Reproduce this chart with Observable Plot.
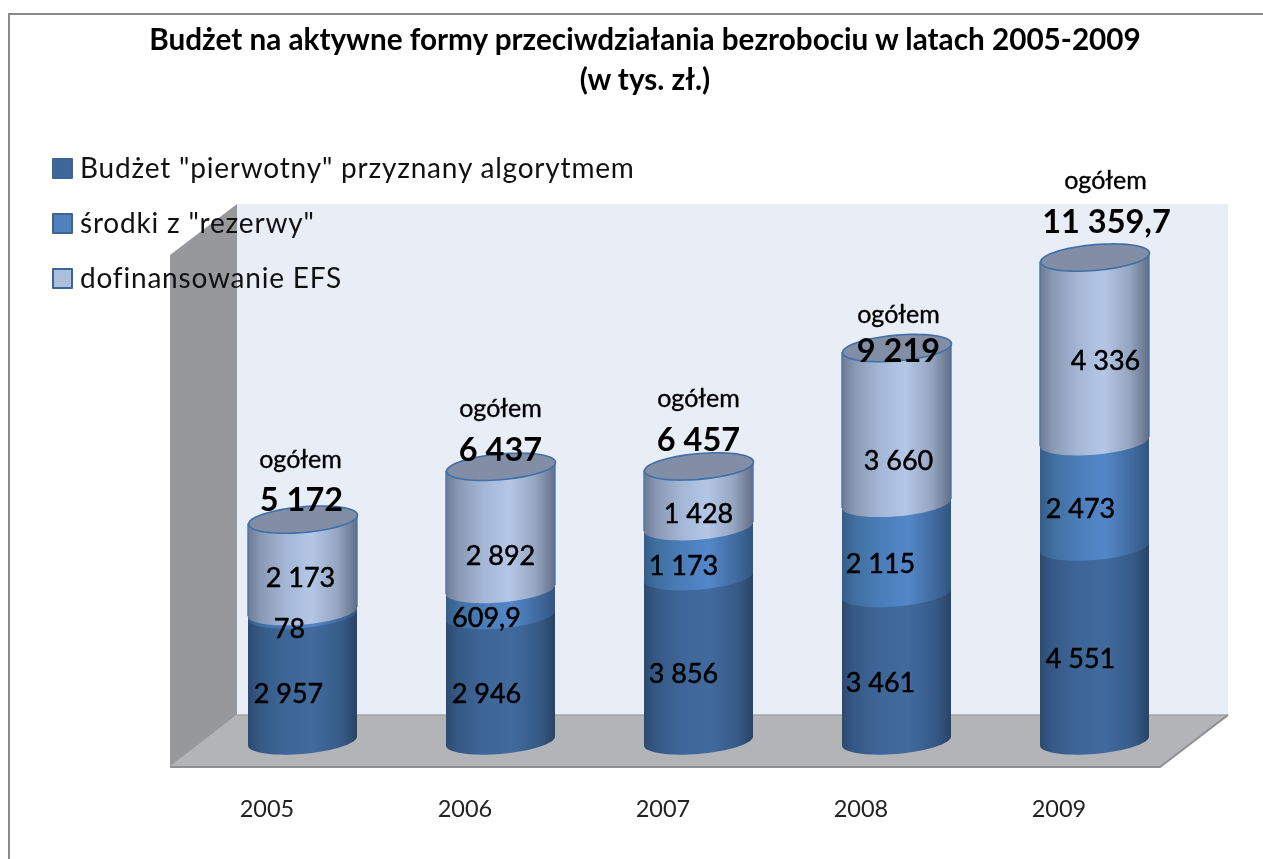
<!DOCTYPE html>
<html lang="pl">
<head>
<meta charset="utf-8">
<script src="https://cdn.jsdelivr.net/npm/d3@7"></script>
<script src="https://cdn.jsdelivr.net/npm/@observablehq/plot@0.6"></script>
<style>
  html, body { margin: 0; padding: 0; background: #fff; width: 1263px; height: 859px; overflow: hidden; }
  body { position: relative; font-family: Lato, sans-serif; color: #000; }
  #page { position: absolute; left: 0; top: 0; width: 1263px; height: 859px; filter: blur(.45px); }
  #border { position: absolute; left: 8px; top: 13px; right: -5px; bottom: -5px; border: 2px solid #8a8a8a; box-sizing: border-box; }
  #plot { position: absolute; left: 0; top: 0; }
  #plot svg { display: block; }
  #title { position: absolute; left: 0; width: 1290px; top: 19px; margin: 0; text-align: center; font-size: 29.7px; font-weight: 700; line-height: 40px; }
  #legend { position: absolute; left: 52px; top: 0; }
  .item { position: absolute; left: 0; white-space: nowrap; font-size: 28px; color: #111; letter-spacing: .8px; line-height: 32px; height: 32px; padding-left: 28px; }
  .item i { position: absolute; left: 0; top: 7.5px; width: 17px; height: 17px; border: 2px solid #3c6494; border-radius: 1px; }
</style>
</head>
<body>
<div id="page">
<div id="border"></div>
<div id="plot"></div>
<h1 id="title">Budżet na aktywne formy przeciwdziałania bezrobociu w latach 2005-2009<br>(w tys. zł.)</h1>
<div id="legend"></div>
</div>
<script>
const years = ["2005", "2006", "2007", "2008", "2009"];
const seriesNames = ['Budżet "pierwotny" przyznany algorytmem', 'środki z "rezerwy"', "dofinansowanie EFS"];
const pierwotny = [2957, 2946, 3856, 3461, 4551];
const rezerwa = [78, 609.9, 1173, 2115, 2473];
const efs = [2173, 2892, 1428, 3660, 4336];
const ogolem = [5172, 6437, 6457, 9219, 11359.7];
const totalWord = "ogółem";

// layout: hand-placed label offsets (px) as in the original chart
const segOffsets = [
  [[-14.5, 16], [-14.5, 16], [-15.5, 15], [-16.5, 15.5], [-14.5, 15]],
  [[-13.5, 15.5], [-14.5, 15], [-15.5, 14], [-16.5, 15], [-14.5, 14]],
  [[-2.5, 12], [-0.5, 28], [-0.5, 18], [1.5, 35], [10.5, 11]]
];
const totalOffsets = [[-1.5, -19.5], [-0.5, -16], [-0.5, -26], [1.5, 4], [11.5, -35]];
const wordOffsets = [[-2.5, -59.5], [-0.5, -57.5], [-0.5, -67], [1.5, -33.5], [10.5, -76.5]];

const allSeries = [pierwotny, rezerwa, efs];
const gradientIds = ["cyl1", "cyl2", "cyl3"];
const gradientStops = [
  [[0, "#2b4a70"], [.12, "#365a87"], [.35, "#3e6698"], [.6, "#416a9e"], [.85, "#365b89"], [1, "#284465"]],
  [[0, "#345d8b"], [.12, "#40709f"], [.35, "#4b7dba"], [.6, "#5487c9"], [.85, "#40699d"], [1, "#30557f"]],
  [[0, "#6d7c95"], [.12, "#8a9ab5"], [.35, "#a5b7d6"], [.58, "#b4c7e6"], [.82, "#96a6c1"], [1, "#626e87"]]
];
const legendSwatch = ["#3f6797", "#4f81bd", "#aebfdd"];
const legendTops = [150.5, 205.5, 260.5];

const fmt = d3.formatLocale({decimal: ",", thousands: " ", grouping: [3]}).format(",~f");

// long table, bottom series first so each bulge covers the one below it
const segments = [];
const stackTops = years.map(() => 0);
allSeries.forEach((vals, s) => vals.forEach((v, i) => {
  segments.push({year: years[i], value: v, mid: stackTops[i] + v / 2, fill: `url(#${gradientIds[s]})`, s, dx: segOffsets[s][i][0], dy: segOffsets[s][i][1]});
  stackTops[i] += v;
}));
const tops = years.map((year, i) => ({year, top: stackTops[i], total: ogolem[i], i}));

const tilt = 4.5, ryEll = 12.9, rxEll = 54.5;
const ellPoint = (t) => [rxEll * Math.cos(t), ryEll * Math.sin(t) - tilt * Math.cos(t)];
const ellipseSymbol = {
  draw(ctx) {
    for (let k = 0; k <= 72; ++k) {
      const [px, py] = ellPoint(k / 72 * 2 * Math.PI);
      k ? ctx.lineTo(px, py) : ctx.moveTo(px, py);
    }
    ctx.closePath();
  }
};

// turn Plot's stacked rects into cylinder segments, keeping the scaled geometry
function cylinder(index, scales, values, dims, ctx, next) {
  const g = next(index, scales, values, dims, ctx);
  const NS = "http://www.w3.org/2000/svg";
  g.querySelectorAll("rect").forEach((r) => {
    const x = +r.getAttribute("x"), w = +r.getAttribute("width");
    const y = +r.getAttribute("y"), h = +r.getAttribute("height");
    const cx = x + w / 2, yb = y + h;
    let d = `M${cx - w / 2},${y + tilt}L${cx - w / 2},${yb + tilt}`;
    for (let k = 1; k <= 36; ++k) {
      const [px, py] = ellPoint(Math.PI - k / 36 * Math.PI);
      d += `L${cx + px * w / (2 * rxEll)},${yb + py}`;
    }
    d += `L${cx + w / 2},${y - tilt}Z`;
    const p = document.createElementNS(NS, "path");
    p.setAttribute("d", d);
    const fill = r.getAttribute("fill");
    p.setAttribute("fill", fill);
    r.replaceWith(p);
    if (fill.includes("cyl3")) {
      const edge = document.createElementNS(NS, "path");
      edge.setAttribute("d", `M${cx - w / 2},${y + tilt}V${yb + tilt}M${cx + w / 2},${y - tilt}V${yb - tilt}`);
      edge.setAttribute("stroke", "#4a76aa");
      edge.setAttribute("stroke-width", 1.4);
      edge.setAttribute("fill", "none");
      p.after(edge);
    }
  });
  return g;
}

function gradients() {
  const defs = d3.create("svg:defs");
  gradientIds.forEach((id, s) => {
    const lg = defs.append("linearGradient").attr("id", id).attr("x1", 0).attr("x2", 1).attr("y1", 0).attr("y2", 0);
    gradientStops[s].forEach(([o, c]) => lg.append("stop").attr("offset", o).attr("stop-color", c));
  });
  return defs.node();
}

// 3D chart room: side wall, back wall, floor
function room() {
  const g = d3.create("svg:g");
  const poly = (pts, fill) => g.append("polygon").attr("points", pts.join(" ")).attr("fill", fill);
  poly([[237, 204], [1228, 204], [1228, 715], [237, 715]], "#e9edf6");
  poly([[170, 255], [237, 204], [237, 715], [170, 767]], "#96989c");
  poly([[237, 715], [1228, 715], [1160, 766], [170, 766]], "#b2b4b8");
  g.append("path").attr("d", "M237,715H1228").attr("stroke", "#a3a5a9").attr("stroke-width", 1.5);
  g.append("path").attr("d", "M170,767H1160L1228,715").attr("fill", "none").attr("stroke", "#8e8f92").attr("stroke-width", 2);
  return g.node();
}

const labelMarks = segments.map((d) => Plot.text([d], {
  x: "year", y: "mid", text: (r) => fmt(r.value), dx: d.dx, dy: d.dy,
  fontSize: 27, fill: "#000", stroke: "#000", strokeWidth: 0.5
}));
const totalMarks = tops.map((d) => Plot.text([d], {
  x: "year", y: "top", text: (r) => fmt(r.total), dx: totalOffsets[d.i][0], dy: totalOffsets[d.i][1],
  fontSize: 32.5, fontWeight: 700, fill: "#000"
}));
const wordMarks = tops.map((d) => Plot.text([d], {
  x: "year", y: "top", text: () => totalWord, dx: wordOffsets[d.i][0], dy: wordOffsets[d.i][1],
  fontSize: 25, fontWeight: 400, fill: "#000", stroke: "#000", strokeWidth: 0.35
}));

const chart = Plot.plot({
  width: 1263, height: 859,
  marginTop: 0, marginRight: 0, marginLeft: 0, marginBottom: 70,
  style: {fontFamily: "Lato, sans-serif", background: "transparent", overflow: "visible"},
  x: {type: "band", domain: years, range: [203.5, 1193.5], paddingInner: .4495, paddingOuter: .22475, align: .5, axis: null, label: null},
  y: {domain: [0, 12000], range: [741, 741 - 12000 * .0426], axis: null, label: null},
  marks: [
    gradients,
    room,
    Plot.barY(segments, {x: "year", y: "value", fill: {value: "fill", scale: null}, render: cylinder}),
    Plot.dot(tops, {x: "year", y: "top", symbol: ellipseSymbol, r: 10, fill: "#828ea5", stroke: "#3f6fa8", strokeWidth: 1.6}),
    Plot.axisX({anchor: "bottom", label: null, tickSize: 0, tickPadding: 11, dx: -36, fontSize: 23.5, fill: "#222", tickFormat: (d) => d}),
    ...labelMarks,
    ...totalMarks,
    ...wordMarks
  ]
});
document.getElementById("plot").append(chart);

const legend = d3.select("#legend");
seriesNames.forEach((name, i) => {
  const it = legend.append("div").attr("class", "item").style("top", legendTops[i] + "px").text(name);
  it.append("i").style("background", legendSwatch[i]);
});
</script>
</body>
</html>
